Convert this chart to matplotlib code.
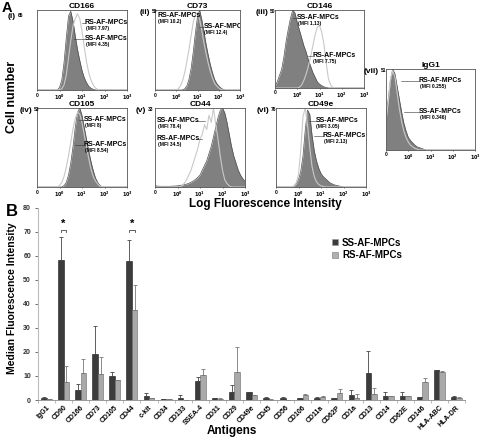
import numpy as np
import matplotlib
matplotlib.use("Agg")
import matplotlib.pyplot as plt
from matplotlib.lines import Line2D

plt.rcParams['font.family'] = ['Liberation Sans', 'DejaVu Sans']
plt.rcParams['font.weight'] = 'bold'

# ---------------- panel A: flow histograms ----------------
# heights read every 0.1 on the log axis (0 = "0", 1 = 10^0 ... 4 = 10^3)
grid = np.arange(41) * 0.1

cd166_ss = [0,0,0,0,0,0,0,0,0,0, 2,8,22,42,60,64,56,44,33,24, 16,10,6,3,1.5,0.5]
cd166_rs = [0,0,0,0,0,0,0,0,0,0, 0,1,4,12,26,40,52,58,62,58, 48,35,23,14,8,4,1.5,0.5]
cd73_ss = [0,0,0,0,0,0,0,0,0,0, 0,0,0,0,1,3,8,16,28,42, 54,59,52,43,34,26,19,13,8,5, 3,1.5,0.5]
cd73_rs = [0,0,0,0,0,0,0,0,0,0, 0,1,3,7,13,21,30,40,50,56, 57,52,44,35,27,20,14,9,5,3, 1.5,0.5]
cd146_ss = [1,4,8,12,20,30,38,45,50,48, 42,37,32,27,23,18,14,10,7,4, 2.5,1.5,0.8,0.3]
cd146_rs = [0,0,0,0,0,0,0,0,0,0, 0,0.5,2,5,9,14,20,27,34,39, 40,36,28,16,6,2,0.5]
cd105_ss = [0,0,0,0,0,0,0,0,0,0, 0,0,1,3,8,16,27,40,50,53, 48,40,32,24,17,11,6,3,1]
cd105_rs = [0,0,0,0,0,0,0,0,0,0, 1,3,7,13,21,30,39,46,50,49, 43,35,27,19,12,7,4,2,0.5]
cd44_ss = [0.5,0.4,0.3,0.3,0.3,0.3,0.3,0.3,0.4,0.4, 0.5,0.6,0.8,1,1.2,1.5,2,2.5,3.2,4,
           5,7,9,11,14,17,21,25,29,32, 33,31,27,22,17,13,10,7,5,3.5, 2.5]
cd44_rs = [0,0,0,0,0,0,0,0,0,0, 0,0,0.5,1.5,3,5,7,10,13,16, 20,22,26,24,30,27,33,26,20,13,
           7,3,1.5,0.5]
cd49e_ss = [0,0,0,0,0,0,0,0,1,3, 7,15,30,55,74,70,50,35,25,18, 13,10,8,6,4,3,2,1.5,1,0.5]
cd49e_rs = [0,0,0,0,0,0,0,0,1,4, 12,35,68,76,60,38,20,10,5,2.5, 1,0.5]
igg1_ss = [20,32,44,51,48,40,32,24,17,12, 8,6,4.5,3,2,1.5,1,0.5]
igg1_rs = [18,30,45,50,46,36,26,18,12,8, 5,3,2,1,0.5]

hist_titles = ["CD166", "CD73", "CD146", "CD105", "CD44", "CD49e", "IgG1"]
hist_tags = ["(i)", "(ii)", "(iii)", "(iv)", "(v)", "(vi)", "(vii)"]
hist_ymax = [65, 59, 50, 53, 33, 76, 51]
hist_ss = [cd166_ss, cd73_ss, cd146_ss, cd105_ss, cd44_ss, cd49e_ss, igg1_ss]
hist_rs = [cd166_rs, cd73_rs, cd146_rs, cd105_rs, cd44_rs, cd49e_rs, igg1_rs]
mfi_ss = ["4.35", "12.4", "1.13", "8", "78.4", "3.05", "0.346"]
mfi_rs = ["7.97", "10.2", "7.75", "8.54", "34.5", "2.13", "0.255"]

W, H = 480, 440
fig = plt.figure(figsize=(4.8, 4.4), dpi=100)

def box(x0, y0, x1, y1):
    return [x0 / W, 1 - y1 / H, (x1 - x0) / W, (y1 - y0) / H]

# pixel boxes, tag x/y, and label layout (text x, text y, leader start) for SS / RS
layout = [
    (box(37, 10, 127, 90), 16, 13, (0.53, 0.69, 0.41), (0.53, 0.89, 0.50)),
    (box(155, 10, 240, 90), 150, 9, (0.57, 0.84, 0.52), (0.03, 0.97, None)),
    (box(275, 10, 364, 88), 268, 9, (0.25, 0.95, 0.20), (0.42, 0.46, 0.37)),
    (box(37, 108, 127, 187), 32, 107, (0.52, 0.90, 0.47), (0.52, 0.58, 0.42)),
    (box(155, 108, 245, 187), 146, 107, (0.02, 0.88, None), (0.02, 0.66, None)),
    (box(276, 108, 366, 187), 269, 107, (0.44, 0.88, 0.37), (0.52, 0.69, 0.42)),
    (box(386, 69, 475, 150), 379, 68, (0.37, 0.52, 0.20), (0.37, 0.90, 0.17)),
]

def pad(v):
    v = list(v) + [0] * (len(grid) - len(v))
    return np.array(v[:len(grid)])

for k in range(7):
    rect, tagx, tagy, lab_ss, lab_rs = layout[k]
    ax = fig.add_axes(rect)
    ss = pad(hist_ss[k])
    rs = pad(hist_rs[k])
    ax.fill_between(grid, 0, ss, color="#808080", lw=0)
    ax.plot(grid, ss, color="#505050", lw=0.5)
    ax.plot(grid, rs, color="#c9c9c9", lw=0.8)
    ax.set_xlim(0, 4)
    ax.set_ylim(0, hist_ymax[k])
    ax.set_xticks([0, 1, 2, 3, 4])
    ax.set_xticklabels(["0", "$10^0$", "$10^1$", "$10^2$", "$10^3$"], fontsize=3.5)
    ax.tick_params(axis='x', length=1, width=0.4, pad=0.8)
    ax.set_yticks([])
    for s in ax.spines.values():
        s.set_linewidth(0.6)
        s.set_color("#555555")
    ax.set_title(hist_titles[k], fontsize=6, fontweight='bold', pad=1)
    fig.text(tagx / W, 1 - tagy / H, hist_tags[k], fontsize=6, fontweight='bold',
             ha='right', va='top')
    fig.text(tagx / W + 0.003, 1 - tagy / H + 0.001, str(hist_ymax[k]), fontsize=3.5,
             ha='left', va='top')
    for (tx, ty, lx), name, mfi in [(lab_ss, "SS-AF-MPCs", mfi_ss[k]),
                                   (lab_rs, "RS-AF-MPCs", mfi_rs[k])]:
        ax.text(tx, ty, name, transform=ax.transAxes, fontsize=5, fontweight='bold',
                va='top', ha='left', clip_on=True)
        ax.text(tx + 0.01, ty - 0.085, "(MFI " + mfi + ")", transform=ax.transAxes,
                fontsize=3.6, va='top', ha='left')
        if lx is not None:
            ax.plot([lx, tx], [ty - 0.05, ty - 0.05], transform=ax.transAxes,
                    color="#333333", lw=0.4)
        elif k == 4:
            ax.plot([0.46, 0.56 if name[0] == "S" else 0.52], [ty - 0.05, ty - 0.05],
                    transform=ax.transAxes, color="#333333", lw=0.4)

fig.text(0.003, 0.997, "A", fontsize=10.5, fontweight='bold', va='top')
fig.text(0.025, 0.78, "Cell number", fontsize=9, fontweight='bold', rotation=90,
         ha='center', va='center')
fig.text(0.552, 0.536, "Log Fluorescence Intensity", fontsize=8.5, fontweight='bold',
         ha='center', va='center')

# ---------------- panel B: median fluorescence bars ----------------
antigens = ["IgG1", "CD90", "CD166", "CD73", "CD105", "CD44", "c-kit", "CD34", "CD133",
            "SSEA-4", "CD31", "CD29", "CD49e", "CD45", "CD56", "CD106", "CD11a", "CD62P",
            "CD1a", "CD13", "CD14", "CD62E", "CD146", "HLA-ABC", "HLA-DR"]
ss_mean = [0.8, 58.5, 4.0, 19.0, 10.0, 58.0, 1.5, 0.3, 0.8, 8.0, 0.7, 3.2, 3.2,
           0.8, 0.8, 0.8, 1.0, 0.8, 2.0, 11.2, 1.8, 1.8, 1.2, 12.3, 1.1]
ss_err = [0.3, 9.5, 2.8, 12.0, 1.8, 8.5, 1.3, 0.1, 1.2, 1.5, 0.1, 3.1, 0.1,
          0.4, 0.3, 0.1, 0.1, 0.1, 2.2, 9.2, 1.7, 1.7, 0.1, 0.1, 0.5]
rs_mean = [0.5, 7.5, 11.3, 11.0, 8.2, 37.5, 0.8, 0.5, 0.1, 10.5, 0.6, 11.5, 2.0,
           0.2, 0.1, 2.2, 1.4, 3.0, 1.0, 2.5, 1.5, 1.5, 7.7, 11.8, 0.9]
rs_err = [0.1, 6.5, 5.8, 6.8, 0.3, 10.5, 0.2, 0.1, 0.1, 2.5, 0.1, 10.5, 0.2,
          0.1, 0.1, 0.1, 0.2, 1.5, 1.5, 2.5, 0.3, 0.1, 1.3, 0.2, 0.3]
significant = ["CD90", "CD44"]

axb = fig.add_axes(box(38, 208, 465, 400))
xs = np.arange(len(antigens))
bw = 0.32
axb.bar(xs - bw / 2, ss_mean, bw, color="#3c3c3c", edgecolor="#1a1a1a", lw=0.4,
        yerr=[np.zeros(len(xs)), ss_err], ecolor="#444444",
        error_kw=dict(elinewidth=0.6, capsize=1.5, capthick=0.6))
axb.bar(xs + bw / 2, rs_mean, bw, color="#a9a9a9", edgecolor="#6a6a6a", lw=0.4,
        yerr=[np.zeros(len(xs)), rs_err], ecolor="#777777",
        error_kw=dict(elinewidth=0.6, capsize=1.5, capthick=0.6))

for name in significant:
    i = antigens.index(name)
    axb.plot([i - bw / 2, i - bw / 2, i + bw / 2, i + bw / 2], [70, 71, 71, 70],
             color="#444444", lw=0.6)
    axb.text(i, 71.5, "*", ha='center', va='bottom', fontsize=8, fontweight='bold')

axb.set_xlim(-0.5, len(antigens) - 0.5)
axb.set_ylim(0, 80)
axb.set_yticks(np.arange(0, 81, 10))
axb.tick_params(axis='y', labelsize=5, length=2, width=0.5, colors="#333333", pad=3)
axb.set_xticks(xs)
axb.set_xticklabels(antigens, rotation=45, ha='right', rotation_mode='anchor',
                    fontsize=5, fontweight='bold')
axb.tick_params(axis='x', length=0, pad=3)
axb.set_xticks(np.arange(len(antigens) + 1) - 0.5, minor=True)
axb.tick_params(axis='x', which='minor', length=2, width=0.4, color="#888888")
for lab in axb.get_yticklabels():
    lab.set_fontweight('bold')
axb.spines['top'].set_visible(False)
axb.spines['right'].set_visible(False)
axb.spines['left'].set_color("#bbbbbb")
axb.spines['left'].set_linewidth(0.8)
axb.spines['bottom'].set_color("#888888")
axb.spines['bottom'].set_linewidth(0.6)
axb.set_ylabel("Median Fluorescence Intensity", fontsize=7.5, fontweight='bold',
               va='center')
axb.yaxis.set_label_coords(-0.062, 0.53)
axb.set_xlabel("Antigens", fontsize=8.5, fontweight='bold', va='center')
axb.xaxis.set_label_coords(0.455, -0.16)

handles = [Line2D([], [], marker='s', ls='', markersize=4, markerfacecolor="#3c3c3c",
                  markeredgecolor="#999999", markeredgewidth=0.4),
           Line2D([], [], marker='s', ls='', markersize=4, markerfacecolor="#b0b0b0",
                  markeredgecolor="#777777", markeredgewidth=0.4)]
fig.legend(handles, ["SS-AF-MPCs", "RS-AF-MPCs"], loc='center',
           bbox_to_anchor=(0.765, 0.434), frameon=False,
           handlelength=0.6, handletextpad=0.4, labelspacing=0.25,
           prop={'weight': 'bold', 'size': 7})

fig.text(0.012, 0.536, "B", fontsize=12, fontweight='bold', va='top')

fig.savefig("out.png", dpi=100)
